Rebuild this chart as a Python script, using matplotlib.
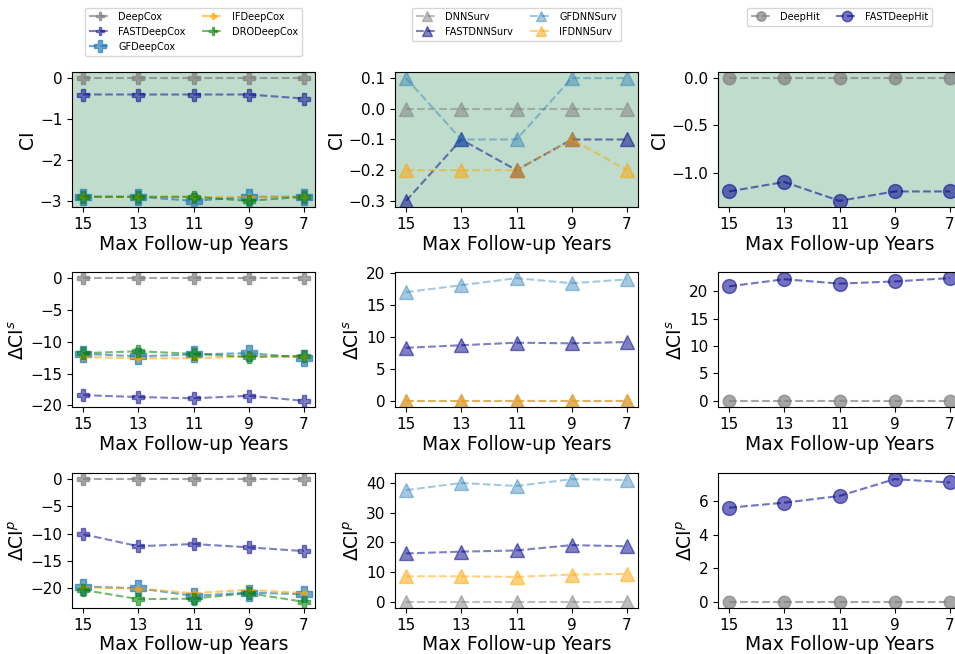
"""Relative concordance of fair survival models across follow-up horizons."""
import matplotlib

matplotlib.use("Agg")
import matplotlib.pyplot as plt
import numpy as np
from matplotlib.ticker import MaxNLocator

years = ["15", "13", "11", "9", "7"]

# DeepCox family
deepcox_ci = [0, 0, 0, 0, 0]
fastdeepcox_ci = [-0.4, -0.4, -0.4, -0.4, -0.5]
gfdeepcox_ci = [-2.9, -2.9, -3.0, -2.9, -2.9]
ifdeepcox_ci = [-2.9, -2.9, -2.9, -2.9, -2.9]
drodeepcox_ci = [-2.9, -2.9, -2.9, -3.0, -2.9]

deepcox_cis = [0, 0, 0, 0, 0]
fastdeepcox_cis = [-18.4, -18.7, -18.9, -18.5, -19.3]
gfdeepcox_cis = [-11.9, -12.3, -12.0, -11.8, -12.5]
ifdeepcox_cis = [-12.4, -12.6, -12.6, -12.3, -12.4]
drodeepcox_cis = [-11.8, -11.5, -11.9, -12.4, -12.2]

deepcox_cip = [0, 0, 0, 0, 0]
fastdeepcox_cip = [-10.1, -12.3, -11.9, -12.5, -13.2]
gfdeepcox_cip = [-19.7, -20.0, -21.4, -20.8, -21.1]
ifdeepcox_cip = [-19.8, -20.1, -20.9, -20.3, -20.9]
drodeepcox_cip = [-20.3, -22.0, -21.9, -20.9, -22.5]

# DNNSurv family
dnnsurv_ci = [0, 0, 0, 0, 0]
fastdnnsurv_ci = [-0.3, -0.1, -0.2, -0.1, -0.1]
gfdnnsurv_ci = [0.1, -0.1, -0.1, 0.1, 0.1]
ifdnnsurv_ci = [-0.2, -0.2, -0.2, -0.1, -0.2]

dnnsurv_cis = [0, 0, 0, 0, 0]
fastdnnsurv_cis = [8.3, 8.7, 9.1, 9.0, 9.2]
gfdnnsurv_cis = [17.0, 18.1, 19.2, 18.4, 19.0]
ifdnnsurv_cis = [0.0, 0.0, 0.0, 0.0, 0.0]

dnnsurv_cip = [0, 0, 0, 0, 0]
fastdnnsurv_cip = [16.3, 16.9, 17.3, 19.1, 18.7]
gfdnnsurv_cip = [37.6, 40.0, 39.0, 41.3, 41.0]
ifdnnsurv_cip = [8.6, 8.6, 8.4, 9.2, 9.4]

# DeepHit family
deephit_ci = [0, 0, 0, 0, 0]
fastdeephit_ci = [-1.2, -1.1, -1.3, -1.2, -1.2]
deephit_cis = [0, 0, 0, 0, 0]
fastdeephit_cis = [20.9, 22.2, 21.4, 21.8, 22.4]
deephit_cip = [0, 0, 0, 0, 0]
fastdeephit_cip = [5.6, 5.9, 6.3, 7.3, 7.1]

# label -> (color, alpha, marker size)
STYLE_COX = {
    "DeepCox": ("gray", 0.7, 8),
    "FASTDeepCox": ("darkblue", 0.5, 8),
    "GFDeepCox": ("tab:blue", 0.65, 11),
    "IFDeepCox": ("orange", 0.6, 5),
    "DRODeepCox": ("green", 0.55, 8),
}
STYLE_DNN = {
    "DNNSurv": ("gray", 0.5, 10),
    "FASTDNNSurv": ("darkblue", 0.5, 10),
    "GFDNNSurv": ("tab:blue", 0.4, 10),
    "IFDNNSurv": ("orange", 0.5, 10),
}
STYLE_HIT = {
    "DeepHit": ("gray", 0.7, 9),
    "FASTDeepHit": ("darkblue", 0.55, 10),
}

columns = [
    ("P", STYLE_COX, [
        [deepcox_ci, fastdeepcox_ci, gfdeepcox_ci, ifdeepcox_ci, drodeepcox_ci],
        [deepcox_cis, fastdeepcox_cis, gfdeepcox_cis, ifdeepcox_cis, drodeepcox_cis],
        [deepcox_cip, fastdeepcox_cip, gfdeepcox_cip, ifdeepcox_cip, drodeepcox_cip],
    ]),
    ("^", STYLE_DNN, [
        [dnnsurv_ci, fastdnnsurv_ci, gfdnnsurv_ci, ifdnnsurv_ci],
        [dnnsurv_cis, fastdnnsurv_cis, gfdnnsurv_cis, ifdnnsurv_cis],
        [dnnsurv_cip, fastdnnsurv_cip, gfdnnsurv_cip, ifdnnsurv_cip],
    ]),
    ("o", STYLE_HIT, [
        [deephit_ci, fastdeephit_ci],
        [deephit_cis, fastdeephit_cis],
        [deephit_cip, fastdeephit_cip],
    ]),
]
row_labels = ["CI", r"$\Delta$CI$^s$", r"$\Delta$CI$^p$"]

W, H = 955, 654
fig, axes = plt.subplots(3, 3, figsize=(W / 100, H / 100), dpi=100)

col_left = [72, 395, 718]
row_top = [72, 272, 473]
ax_w, ax_h = 243, 135
x = np.arange(len(years))

for c, (marker, styles, rows) in enumerate(columns):
    for r, series in enumerate(rows):
        ax = axes[r, c]
        ax.set_position([col_left[c] / W, 1 - (row_top[r] + ax_h) / H, ax_w / W, ax_h / H])
        for (name, (color, alpha, ms)), vals in zip(styles.items(), series):
            ax.plot(x, vals, linestyle="--", marker=marker, color=color, alpha=alpha,
                    markersize=ms, linewidth=1.5, label=name)
        if r == 0:
            ax.set_facecolor((46 / 255, 139 / 255, 87 / 255, 0.3))
            ax.legend(loc="upper center", bbox_to_anchor=(0.5, 1.51), ncol=2,
                      fontsize=7, handlelength=2.2, columnspacing=1.7,
                      markerscale=0.75)
        ax.yaxis.set_major_locator(MaxNLocator(nbins=6, steps=[1, 2, 5, 10]))
        ax.set_xticks(x)
        ax.set_xticklabels(years)
        ax.tick_params(labelsize=11)
        ax.set_xlabel("Max Follow-up Years", fontsize=13.5, labelpad=2)
        ax.set_ylabel(row_labels[r], fontsize=13.5, labelpad=2)

fig.savefig("out.png", dpi=100)
